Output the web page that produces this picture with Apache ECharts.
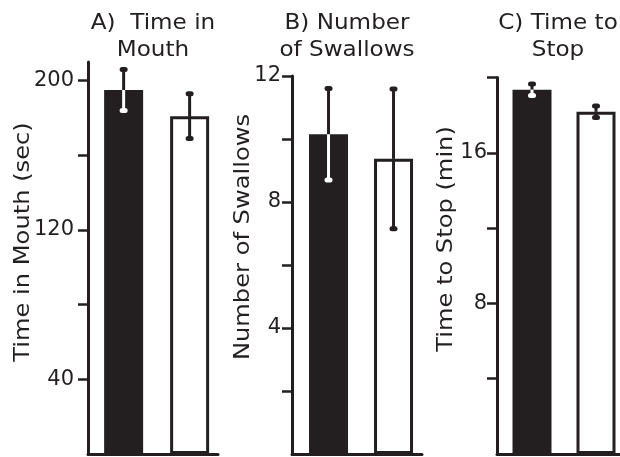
<!DOCTYPE html>
<html>
<head>
<meta charset="utf-8">
<script src="https://cdn.jsdelivr.net/npm/echarts@6/dist/echarts.min.js"></script>
<style>
  html, body { margin: 0; padding: 0; background: #fff; }
  #chart { width: 620px; height: 457px; }
</style>
</head>
<body>
<div id="chart"></div>
<script>
// two groups per panel: dark bar, open bar
const groups = ['Group 1', 'Group 2'];

const mouthMean = [195, 181];
const mouthErr = [11, 12];
const swallowMean = [10.15, 9.37];
const swallowErr = [1.45, 2.22];
const stopMean = [19.35, 18.18];
const stopErr = [0.3, 0.3];

const mouthTicks = [40, 80, 120, 160, 200];
const mouthLabels = [40, 120, 200];
const swallowTicks = [2, 4, 6, 8, 10, 12];
const swallowLabels = [4, 8, 12];
const stopTicks = [4, 8, 12, 16, 20];
const stopLabels = [8, 16];

const ink = '#231f20';
const font = '"DejaVu Sans", sans-serif';

const chart = echarts.init(document.getElementById('chart'));

const panels = [
  { mean: mouthMean, err: mouthErr, max: 210, ticks: mouthTicks, labels: mouthLabels,
    grid: { left: 88, width: 130, top: 62, bottom: 3 }, xr: [0.46, 2.43], margin: 14 },
  { mean: swallowMean, err: swallowErr, max: 12, ticks: swallowTicks, labels: swallowLabels,
    grid: { left: 292, width: 130, top: 76, bottom: 3 }, xr: [0.438, 2.438], margin: 11 },
  { mean: stopMean, err: stopErr, max: 20, ticks: stopTicks, labels: stopLabels,
    grid: { left: 497, width: 123, top: 77.5, bottom: 3 }, xr: [0.453, 2.375], margin: 10 }
];

const grid = [], xAxis = [], yAxis = [], series = [];

panels.forEach((p, i) => {
  grid.push(p.grid);
  xAxis.push({
    type: 'value', gridIndex: i, min: p.xr[0], max: p.xr[1],
    axisLine: { show: true, lineStyle: { color: ink, width: 3 } },
    axisTick: { show: false }, axisLabel: { show: false }, splitLine: { show: false }
  });
  yAxis.push({
    type: 'value', gridIndex: i, min: 0, max: p.max,
    axisLine: { show: true, lineStyle: { color: ink, width: 3 } },
    axisTick: { show: true, length: 10, customValues: p.ticks, lineStyle: { color: ink, width: 2.5 } },
    axisLabel: { customValues: p.labels, color: ink, fontSize: 21, fontFamily: font, margin: p.margin },
    splitLine: { show: false }
  });
  series.push({
    type: 'bar', xAxisIndex: i, yAxisIndex: i,
    barWidth: 39,
    silent: true,
    data: groups.map((g, k) => ({
      value: [k + 1, p.mean[k]],
      itemStyle: k === 0
        ? { color: ink }
        : { color: '#fff', borderColor: ink, borderWidth: 3 }
    }))
  });
  series.push({
    type: 'custom', xAxisIndex: i, yAxisIndex: i, z: 10, silent: true,
    data: groups.map((g, k) => [k + 1, p.mean[k], p.err[k], k === 0 ? 1 : 0]),
    renderItem: (params, api) => {
      const x = api.value(0), m = api.value(1), e = api.value(2), dark = api.value(3);
      const top = api.coord([x, m + e]);
      const mid = api.coord([x, m]);
      const bot = api.coord([x, m - e]);
      const lower = dark ? '#fff' : ink;
      return {
        type: 'group',
        children: [
          { type: 'line', shape: { x1: top[0], y1: top[1], x2: mid[0], y2: mid[1] },
            style: { stroke: ink, lineWidth: 3 } },
          { type: 'line', shape: { x1: mid[0], y1: mid[1], x2: bot[0], y2: bot[1] },
            style: { stroke: lower, lineWidth: 3 } },
          { type: 'rect', shape: { x: top[0] - 4, y: top[1] - 2.5, width: 8, height: 5, r: 2.5 },
            style: { fill: ink } },
          { type: 'rect', shape: { x: bot[0] - 4, y: bot[1] - 2.5, width: 8, height: 5, r: 2.5 },
            style: { fill: lower } }
        ]
      };
    }
  });
});

// texts are stretched a little to get closer to the wide geometric face of the original
function label(text, x, y, rotate) {
  return {
    type: 'text', x: x, y: y, rotation: rotate ? Math.PI / 2 : 0, silent: true,
    scaleX: rotate ? 1.15 : 1.1,
    style: {
      text: text, x: 0, y: 0, fill: ink, font: '21px ' + font,
      align: 'center', verticalAlign: rotate ? 'middle' : 'top', lineHeight: 27
    }
  };
}

chart.setOption({
  animation: false,
  backgroundColor: '#fff',
  grid: grid,
  xAxis: xAxis,
  yAxis: yAxis,
  series: series,
  graphic: [
    label('A)  Time in\nMouth', 153, 10),
    label('B) Number\nof Swallows', 347, 10),
    label('C) Time to\nStop', 558, 10),
    label('Time in Mouth (sec)', 24, 242, true),
    label('Number of Swallows', 244, 237, true),
    label('Time to Stop (min)', 447, 239, true)
  ]
});
</script>
</body>
</html>
